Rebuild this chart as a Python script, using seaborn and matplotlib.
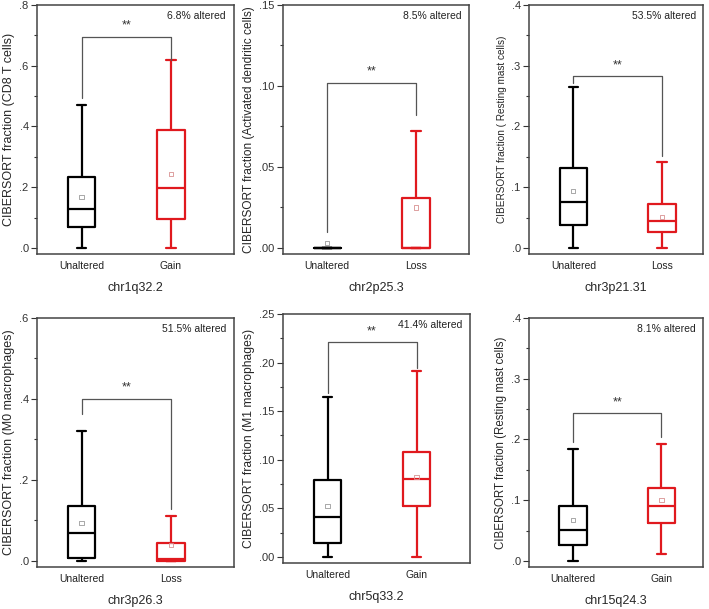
import numpy as np
import pandas as pd
import matplotlib
matplotlib.use("Agg")
import matplotlib.pyplot as plt
import seaborn as sns
from matplotlib.ticker import MultipleLocator, FuncFormatter

sns.set_style("ticks")
plt.rcParams['font.family'] = ['Liberation Sans', 'DejaVu Sans']

# ---------- data ---------- #
regions = ['chr1q32.2', 'chr2p25.3', 'chr3p21.31', 'chr3p26.3', 'chr5q33.2', 'chr15q24.3']
cell_types = ['CD8 T cells', 'Activated dendritic cells', ' Resting mast cells',
              'M0 macrophages', 'M1 macrophages', 'Resting mast cells']
alt_labels = ['Gain', 'Loss', 'Loss', 'Loss', 'Gain', 'Gain']
altered_pct = ['6.8%', '8.5%', '53.5%', '51.5%', '41.4%', '8.1%']

# five-number summaries: min, q1, median, q3, max
unaltered_stats = [
    [0.0, 0.070, 0.128, 0.233, 0.470],
    [0.0, 0.0, 0.0, 0.0, 0.0],
    [0.0, 0.038, 0.076, 0.131, 0.265],
    [0.0, 0.008, 0.068, 0.135, 0.320],
    [0.0, 0.014, 0.041, 0.079, 0.165],
    [0.0, 0.027, 0.051, 0.091, 0.185],
]
altered_stats = [
    [0.0, 0.095, 0.197, 0.390, 0.620],
    [0.0, 0.0, 0.0, 0.031, 0.072],
    [0.0, 0.026, 0.045, 0.073, 0.142],
    [0.0, 0.0, 0.004, 0.045, 0.110],
    [0.0, 0.052, 0.080, 0.108, 0.191],
    [0.011, 0.062, 0.090, 0.120, 0.193],
]
unaltered_mean = [0.168, 0.003, 0.094, 0.094, 0.052, 0.067]
altered_mean = [0.243, 0.025, 0.051, 0.040, 0.082, 0.100]

# significance bracket: top, left leg end, right leg end
bracket_top = [0.696, 0.102, 0.283, 0.401, 0.221, 0.243]
bracket_left = [0.493, 0.0096, 0.271, 0.364, 0.169, 0.196]
bracket_right = [0.619, 0.082, 0.151, 0.129, 0.194, 0.204]

# axis settings
y_max = [0.8, 0.15, 0.4, 0.6, 0.25, 0.4]
y_major = [0.2, 0.05, 0.1, 0.2, 0.05, 0.1]
y_dec = [1, 2, 1, 1, 2, 1]
x_right = [1.71, 1.60, 1.46, 1.71, 1.60, 1.47]
ylab_size = [9, 8.6, 7.2, 9, 8.7, 8.3]

# axes rectangles in pixels (left, bottom, width, height)
W, H = 709, 609
rects = [(37, 355, 197, 249), (283, 355, 186, 249), (529, 355, 174, 249),
         (37, 42, 197, 249), (283, 46, 187, 249), (529, 42, 174, 249)]

RED = '#e0191e'
fig = plt.figure(figsize=(W / 100, H / 100), dpi=100)

for i in range(6):
    l, b, w, h = rects[i]
    ax = fig.add_axes([l / W, b / H, w / W, h / H])
    grp = alt_labels[i]
    df = pd.DataFrame({
        'group': ['Unaltered'] * 5 + [grp] * 5,
        'value': unaltered_stats[i] + altered_stats[i],
    })
    sns.boxplot(data=df, x='group', y='value', hue='group',
                order=['Unaltered', grp],
                palette={'Unaltered': 'black', grp: RED},
                fill=False, whis=(0, 100), width=0.31, linewidth=1.6,
                legend=False, ax=ax)
    # shrink the whisker caps a little
    for ln in ax.lines:
        xs, ys = ln.get_data()
        if len(xs) == 2 and ys[0] == ys[1] and abs(xs[1] - xs[0]) < 0.2:
            c = (xs[0] + xs[1]) / 2
            ln.set_xdata([c - 0.055, c + 0.055])

    # means
    ax.scatter([0], [unaltered_mean[i]], marker='s', s=9, facecolor='none',
               edgecolor='#9a9a9a', linewidth=0.6, zorder=5)
    ax.scatter([1], [altered_mean[i]], marker='s', s=9, facecolor='none',
               edgecolor='#d89090', linewidth=0.6, zorder=5)

    # bracket
    ax.plot([0, 0, 1, 1], [bracket_left[i], bracket_top[i], bracket_top[i], bracket_right[i]],
            color='#555555', lw=0.9)
    ax.text(0.5, bracket_top[i] + 0.02 * y_max[i], '**', ha='center', va='bottom',
            fontsize=9, color='#333333')
    ax.text(0.96, 0.975, altered_pct[i] + ' altered', transform=ax.transAxes,
            ha='right', va='top', fontsize=7.5, color='#222222')

    lo = -y_max[i] * 0.025
    ax.set_ylim(lo, y_max[i])
    ax.set_xlim(-0.5, x_right[i])
    ax.yaxis.set_major_locator(MultipleLocator(y_major[i]))
    ax.yaxis.set_minor_locator(MultipleLocator(y_major[i] / 2))
    d = y_dec[i]
    ax.yaxis.set_major_formatter(FuncFormatter(lambda v, p, d=d: f'{v:.{d}f}'.lstrip('0') if v >= 0 else ''))
    ax.tick_params(axis='y', which='major', length=4, width=0.8, labelsize=8, pad=2, colors='#333333')
    ax.tick_params(axis='y', which='minor', length=2, width=0.8, colors='#333333')
    ax.tick_params(axis='x', length=0, labelsize=7.5, pad=5, labelcolor='#222222')
    ax.set_ylabel(f'CIBERSORT fraction ({cell_types[i]})', fontsize=ylab_size[i], labelpad=3)
    ax.set_xlabel(regions[i], fontsize=9, labelpad=8)
    for s in ax.spines.values():
        s.set_visible(True)
        s.set_color('#444444')
        s.set_linewidth(1.1)

fig.savefig('out.png', dpi=100)
